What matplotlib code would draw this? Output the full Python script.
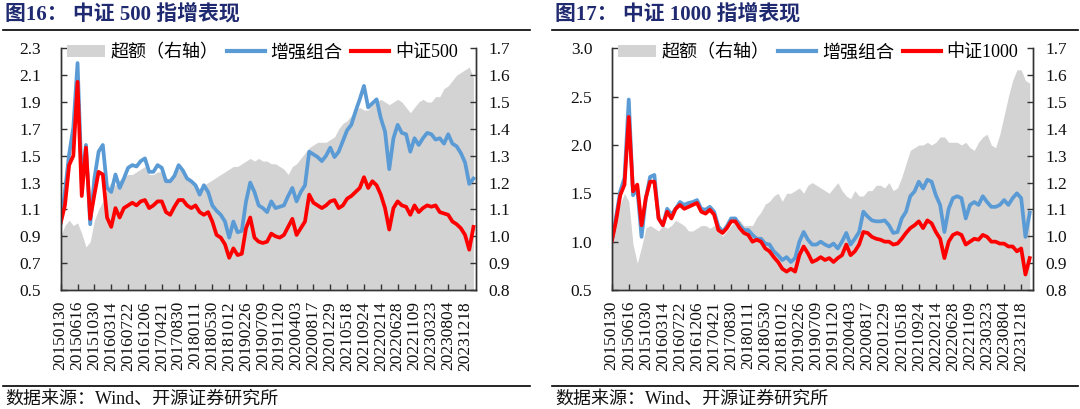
import numpy as np
import matplotlib
matplotlib.use('Agg')
import matplotlib.pyplot as plt
from matplotlib.patches import Patch
from matplotlib.lines import Line2D

plt.rcParams['font.family'] = ['Liberation Serif', 'Noto Sans CJK SC', 'DejaVu Sans']
plt.rcParams['axes.unicode_minus'] = False

# ---------------- data ----------------
date_labels = ['20150130', '20150616', '20151030', '20160314', '20160722', '20161206',
               '20170421', '20170830', '20180111', '20180530', '20181012', '20190226',
               '20190709', '20191120', '20200403', '20200817', '20201229', '20210518',
               '20210924', '20220214', '20220628', '20221109', '20230323', '20230804',
               '20231218']
samples_per_label = 4

# 中证500 panel
zz500_excess = [1.00, 1.04, 1.06, 1.04, 1.05, 1.01, 0.96, 0.98, 1.06, 1.10, 1.13, 1.18, 1.20, 1.19,
                1.21, 1.22, 1.23, 1.23, 1.24, 1.25, 1.26, 1.23, 1.23, 1.24, 1.24, 1.22, 1.21, 1.23,
                1.25, 1.24, 1.21, 1.20, 1.18, 1.18, 1.19, 1.20, 1.21, 1.22, 1.23, 1.24, 1.25, 1.26,
                1.26, 1.27, 1.28, 1.29, 1.28, 1.29, 1.28, 1.28, 1.27, 1.27, 1.26, 1.25, 1.23, 1.26,
                1.27, 1.29, 1.31, 1.33, 1.34, 1.35, 1.35, 1.35, 1.36, 1.37, 1.40, 1.42, 1.43, 1.45,
                1.47, 1.48, 1.47, 1.47, 1.49, 1.50, 1.51, 1.50, 1.49, 1.50, 1.51, 1.50, 1.48, 1.46,
                1.48, 1.50, 1.51, 1.50, 1.50, 1.52, 1.52, 1.55, 1.56, 1.58, 1.60, 1.61, 1.62, 1.63,
                1.59]
zz500_enhanced = [1.00, 1.23, 1.51, 1.71, 2.19, 1.30, 1.58, 0.99, 1.33, 1.53, 1.58, 1.26, 1.23, 1.36,
                  1.26, 1.33, 1.41, 1.43, 1.42, 1.46, 1.48, 1.38, 1.38, 1.43, 1.41, 1.31, 1.31, 1.35,
                  1.43, 1.39, 1.33, 1.31, 1.28, 1.21, 1.28, 1.23, 1.13, 1.09, 1.06, 1.01, 0.89, 1.01,
                  0.93, 0.94, 1.16, 1.30, 1.23, 1.13, 1.11, 1.08, 1.16, 1.11, 1.12, 1.13, 1.20, 1.26,
                  1.16, 1.23, 1.28, 1.53, 1.51, 1.49, 1.46, 1.50, 1.56, 1.49, 1.53, 1.61, 1.69, 1.73,
                  1.83, 1.92, 2.02, 1.86, 1.89, 1.92, 1.78, 1.68, 1.40, 1.63, 1.73, 1.67, 1.66, 1.53,
                  1.63, 1.58, 1.63, 1.67, 1.66, 1.62, 1.63, 1.59, 1.66, 1.59, 1.57, 1.52, 1.45, 1.29,
                  1.33]
zz500_index = [1.00, 1.13, 1.43, 1.50, 2.05, 1.20, 1.56, 1.03, 1.21, 1.38, 1.36, 1.04, 0.97, 1.11,
               1.04, 1.11, 1.13, 1.15, 1.13, 1.16, 1.17, 1.11, 1.13, 1.16, 1.16, 1.08, 1.06, 1.12,
               1.17, 1.17, 1.13, 1.11, 1.13, 1.08, 1.06, 1.08, 1.01, 0.91, 0.89, 0.84, 0.74, 0.81,
               0.76, 0.77, 0.96, 1.04, 0.89, 0.86, 0.85, 0.86, 0.92, 0.90, 0.89, 0.91, 0.97, 1.03,
               0.91, 0.96, 1.01, 1.21, 1.15, 1.13, 1.11, 1.13, 1.16, 1.17, 1.11, 1.13, 1.18, 1.20,
               1.23, 1.26, 1.34, 1.26, 1.31, 1.28, 1.21, 1.11, 0.95, 1.11, 1.16, 1.13, 1.12, 1.06,
               1.13, 1.08, 1.11, 1.13, 1.12, 1.13, 1.08, 1.07, 1.06, 1.01, 0.99, 0.96, 0.91, 0.80,
               0.97]

# 中证1000 panel
zz1000_excess = [1.00, 1.06, 1.12, 1.16, 1.13, 0.97, 0.90, 0.96, 1.03, 1.04, 1.03, 1.02, 1.04, 1.03,
                 1.04, 1.06, 1.05, 1.04, 1.02, 1.02, 1.03, 1.04, 1.04, 1.03, 1.04, 1.02, 1.00, 1.02,
                 1.04, 1.06, 1.06, 1.04, 1.04, 1.04, 1.07, 1.09, 1.12, 1.13, 1.15, 1.16, 1.13, 1.16,
                 1.16, 1.17, 1.18, 1.16, 1.19, 1.20, 1.19, 1.18, 1.17, 1.16, 1.18, 1.20, 1.17, 1.15,
                 1.14, 1.17, 1.15, 1.15, 1.17, 1.17, 1.19, 1.19, 1.18, 1.20, 1.17, 1.18, 1.22, 1.27,
                 1.32, 1.33, 1.34, 1.34, 1.35, 1.34, 1.35, 1.37, 1.37, 1.35, 1.35, 1.35, 1.34, 1.35,
                 1.33, 1.32, 1.35, 1.37, 1.38, 1.34, 1.33, 1.38, 1.45, 1.52, 1.58, 1.62, 1.62, 1.58,
                 1.57]
zz1000_enhanced = [1.00, 1.25, 1.52, 1.66, 2.47, 1.48, 1.55, 1.05, 1.45, 1.67, 1.69, 1.24, 1.17, 1.34,
                   1.28, 1.34, 1.41, 1.38, 1.40, 1.41, 1.43, 1.34, 1.33, 1.36, 1.31, 1.16, 1.10, 1.16,
                   1.24, 1.24, 1.17, 1.12, 1.12, 1.07, 1.03, 1.03, 0.98, 0.97, 0.90, 0.86, 0.81, 0.84,
                   0.79, 0.83, 1.00, 1.10, 1.02, 0.97, 0.97, 1.00, 0.97, 0.95, 0.98, 0.93, 1.00, 1.09,
                   0.97, 1.03, 1.10, 1.31, 1.26, 1.22, 1.21, 1.21, 1.22, 1.17, 1.09, 1.10, 1.24, 1.31,
                   1.47, 1.52, 1.62, 1.55, 1.64, 1.62, 1.48, 1.38, 1.10, 1.34, 1.45, 1.47, 1.45, 1.24,
                   1.38, 1.41, 1.38, 1.47, 1.41, 1.36, 1.36, 1.38, 1.43, 1.38, 1.45, 1.50, 1.45, 1.05,
                   1.30]
zz1000_index = [1.00, 1.21, 1.48, 1.59, 2.29, 1.52, 1.59, 1.17, 1.45, 1.62, 1.62, 1.24, 1.17, 1.31,
                1.24, 1.34, 1.38, 1.34, 1.36, 1.38, 1.40, 1.31, 1.29, 1.33, 1.28, 1.12, 1.09, 1.14,
                1.21, 1.21, 1.14, 1.09, 1.07, 1.00, 1.02, 1.00, 0.93, 0.90, 0.84, 0.79, 0.72, 0.69,
                0.72, 0.69, 0.86, 0.95, 0.88, 0.79, 0.81, 0.84, 0.81, 0.83, 0.79, 0.83, 0.86, 0.97,
                0.86, 0.90, 0.97, 1.10, 1.09, 1.05, 1.03, 1.02, 1.00, 1.00, 0.97, 0.98, 1.03, 1.09,
                1.14, 1.17, 1.21, 1.14, 1.22, 1.19, 1.10, 1.03, 0.83, 1.00, 1.07, 1.09, 1.07, 0.97,
                1.00, 1.03, 1.02, 1.07, 1.05, 1.00, 1.00, 0.98, 0.98, 0.95, 0.95, 0.90, 0.93, 0.66,
                0.83]

# ---------------- style ----------------
W, H = 1080, 409
GREY = '#D3D3D3'
BLUE = '#5B9BD5'
RED = '#FF0000'
NAVY = '#1F2A70'
TXT = '#111111'

fig = plt.figure(figsize=(W / 100, H / 100), dpi=100)


def rect(x0, y0, w, h):
    return [x0 / W, 1 - (y0 + h) / H, w / W, h / H]


def hline(x0, x1, y, lw=1.2):
    fig.add_artist(Line2D([x0 / W, x1 / W], [1 - y / H, 1 - y / H],
                          color='black', lw=lw, transform=fig.transFigure))


def panel(ax_rect, title, tx, lx0, lx1, excess, enh, idx, idx_name,
          left_lim, left_ticks, xmax, lpad, leg_cx):
    fig.text(tx / W, 1 - 14 / H, title, ha='left', va='center', fontsize=15,
             fontweight='bold', color=NAVY)
    hline(lx0, lx1, 29.5)
    hline(lx0, lx1, 385.5)
    fig.text(tx / W, 1 - 399 / H, '数据来源：Wind、开源证券研究所', ha='left', va='center',
             fontsize=13, color=TXT)

    ax = fig.add_axes(rect(*ax_rect))
    ax2 = ax.twinx()
    x = np.arange(len(enh))

    ax2.fill_between(x, 0.8, excess, color=GREY, lw=0)
    ax2.set_ylim(0.8, 1.7)
    r_ticks = np.round(np.arange(0.8, 1.71, 0.1), 1)
    ax2.set_yticks(r_ticks)
    ax2.set_yticklabels([f'{v:.1f}' for v in r_ticks])

    ax.plot(x, enh, color=BLUE, lw=2.7, solid_joinstyle='round')
    ax.plot(x, idx, color=RED, lw=2.7, solid_joinstyle='round')
    ax.set_ylim(*left_lim)
    ax.set_yticks(left_ticks)
    ax.set_yticklabels([f'{v:.1f}' for v in left_ticks])
    ax.set_zorder(ax2.get_zorder() + 1)
    ax.patch.set_visible(False)

    ax.set_xlim(0, xmax)
    xt = np.arange(len(date_labels)) * samples_per_label
    ax.set_xticks(xt)
    ax.set_xticklabels(date_labels, rotation=90, fontsize=12.5, color=TXT)

    for a in (ax, ax2):
        a.spines['top'].set_visible(False)
        for s in ('left', 'right', 'bottom'):
            a.spines[s].set_color('#333333')
            a.spines[s].set_linewidth(1.0)
    ax.tick_params(axis='x', direction='in', length=4, width=1, color='#333333', pad=8)
    ax.tick_params(axis='y', direction='in', length=4, width=1, color='#333333',
                   labelsize=12.5, labelcolor=TXT, pad=lpad)
    ax2.tick_params(axis='y', direction='in', length=4, width=1, color='#333333',
                    labelsize=12.5, labelcolor=TXT, pad=9)

    handles = [Patch(facecolor=GREY, edgecolor='none'),
               Line2D([], [], color=BLUE, lw=3),
               Line2D([], [], color=RED, lw=3)]
    labels = ['超额（右轴）', '增强组合', idx_name]
    ax.legend(handles, labels, loc='center', bbox_to_anchor=(leg_cx, 0.982), ncol=3,
              frameon=False, fontsize=13, handlelength=2.1, handleheight=0.6,
              handletextpad=0.3, columnspacing=0.5, borderaxespad=0, borderpad=0)
    return ax


panel((60.7, 48.3, 415.3, 241.7), '图16： 中证 500 指增表现', 5, 3, 530,
      zz500_excess, zz500_enhanced, zz500_index, '中证500',
      (0.5, 2.3), np.round(np.arange(0.5, 2.31, 0.2), 1), 98.6, 14, 0.485)
panel((611.7, 48.3, 421.0, 241.7), '图17： 中证 1000 指增表现', 555, 552, 1078,
      zz1000_excess, zz1000_enhanced, zz1000_index, '中证1000',
      (0.5, 3.0), np.round(np.arange(0.5, 3.01, 0.5), 1), 98.7, 14, 0.49)

fig.savefig('out.png', dpi=100)
